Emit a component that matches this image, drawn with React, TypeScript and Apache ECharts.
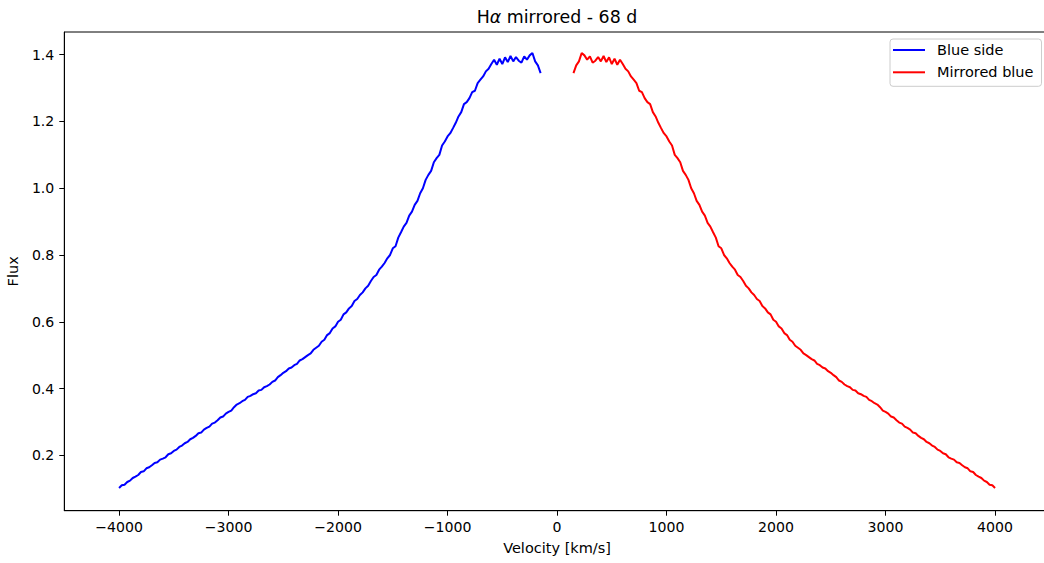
import React, { useEffect, useRef } from "react";
import * as echarts from "echarts";

// Velocity grid of the blue side (km/s)
const VELOCITY_START = -4000;
const VELOCITY_STEP = 25;

// Flux of the blue side (from -4000 to -150 km/s)
const blueFlux = [
  0.102, 0.110, 0.112, 0.120,
  0.124, 0.132, 0.136, 0.141,
  0.150, 0.152, 0.161, 0.164,
  0.170, 0.177, 0.179, 0.187,
  0.190, 0.194, 0.203, 0.206,
  0.213, 0.217, 0.225, 0.229,
  0.236, 0.240, 0.248, 0.252,
  0.258, 0.266, 0.268, 0.277,
  0.282, 0.286, 0.295, 0.298,
  0.305, 0.313, 0.316, 0.325,
  0.330, 0.334, 0.344, 0.352,
  0.356, 0.362, 0.366, 0.375,
  0.378, 0.383, 0.386, 0.394,
  0.396, 0.404, 0.407, 0.412,
  0.420, 0.424, 0.434, 0.440,
  0.447, 0.452, 0.460, 0.463,
  0.470, 0.474, 0.484, 0.488,
  0.494, 0.500, 0.505, 0.516,
  0.522, 0.528, 0.540, 0.546,
  0.560, 0.566, 0.580, 0.586,
  0.600, 0.606, 0.622, 0.628,
  0.640, 0.647, 0.662, 0.668,
  0.680, 0.688, 0.700, 0.708,
  0.722, 0.734, 0.740, 0.756,
  0.765, 0.776, 0.790, 0.800,
  0.820, 0.826, 0.852, 0.868,
  0.885, 0.896, 0.918, 0.930,
  0.950, 0.962, 0.985, 1.000,
  1.025, 1.040, 1.052, 1.078,
  1.090, 1.100, 1.128, 1.140,
  1.155, 1.165, 1.180, 1.196,
  1.215, 1.228, 1.252, 1.258,
  1.270, 1.288, 1.292, 1.315,
  1.325, 1.335, 1.350, 1.358,
  1.372, 1.385, 1.370, 1.388,
  1.372, 1.392, 1.378, 1.396,
  1.380, 1.393, 1.382, 1.376,
  1.395, 1.385, 1.398, 1.405,
  1.380, 1.368, 1.345,
];

const xTicks = [-4000, -3000, -2000, -1000, 0, 1000, 2000, 3000, 4000];
const yTicks = [0.2, 0.4, 0.6, 0.8, 1.0, 1.2, 1.4];

const seriesNames = ["Blue side", "Mirrored blue"];
const FONT = "DejaVu Sans";

export default function App() {
  const ref = useRef<HTMLDivElement>(null);

  useEffect(() => {
    if (!ref.current) return;
    const chart = echarts.init(ref.current, null, { renderer: "svg" });

    const blueData = blueFlux.map((f, i) => [VELOCITY_START + i * VELOCITY_STEP, f]);
    const mirroredData = blueData.map(([v, f]) => [-v, f]).reverse();

    chart.setOption({
      animation: false,
      backgroundColor: "#ffffff",
      textStyle: { fontFamily: FONT },
      grid: {
        left: 64.3,
        top: 32,
        width: 985.5,
        bottom: 52.3,
        show: true,
        borderColor: "#000",
        borderWidth: 1,
        backgroundColor: "transparent",
        containLabel: false,
        outerBoundsMode: "none",
      },
      legend: {
        orient: "vertical",
        left: 890,
        top: 39,
        data: seriesNames,
        icon: "rect",
        itemWidth: 32,
        itemHeight: 2,
        itemGap: 6.3,
        padding: [3, 8, 6, 3],
        borderColor: "#cccccc",
        borderWidth: 1,
        borderRadius: 3,
        backgroundColor: "rgba(255,255,255,0.8)",
        textStyle: {
          fontFamily: FONT,
          fontSize: 14.5,
          color: "#000",
          lineHeight: 16,
          padding: [0, 0, 0, 7],
        },
      },
      graphic: [
        {
          type: "text",
          x: 557,
          y: 17,
          style: {
            text: "{n|H}{a|α}{n| mirrored - 68 d}",
            textAlign: "center",
            textVerticalAlign: "middle",
            rich: {
              n: { fontFamily: FONT, fontSize: 17.4, fill: "#000" },
              a: { fontFamily: FONT, fontSize: 17.4, fontStyle: "italic", fill: "#000" },
            },
          },
        },
      ],
      xAxis: {
        type: "value",
        min: -4500,
        max: 4500,
        name: "Velocity [km/s]",
        nameLocation: "middle",
        nameGap: 30,
        nameTextStyle: { fontFamily: FONT, fontSize: 14.5, color: "#000" },
        splitLine: { show: false },
        axisLine: { show: true, onZero: false, lineStyle: { color: "#000", width: 1 } },
        axisTick: {
          show: true,
          inside: false,
          length: 5,
          customValues: xTicks,
          lineStyle: { color: "#000", width: 1 },
        },
        axisLabel: {
          customValues: xTicks,
          margin: 9,
          fontFamily: FONT,
          fontSize: 14.1,
          color: "#000",
          formatter: (v: number) => String(v).replace("-", "\u2212"),
        },
      },
      yAxis: {
        type: "value",
        min: 0.034,
        max: 1.468,
        name: "Flux",
        nameLocation: "middle",
        nameGap: 41,
        nameRotate: 90,
        nameTextStyle: { fontFamily: FONT, fontSize: 14.5, color: "#000" },
        splitLine: { show: false },
        axisLine: { show: true, onZero: false, lineStyle: { color: "#000", width: 1 } },
        axisTick: {
          show: true,
          inside: false,
          length: 5,
          customValues: yTicks,
          lineStyle: { color: "#000", width: 1 },
        },
        axisLabel: {
          customValues: yTicks,
          margin: 10,
          fontFamily: FONT,
          fontSize: 14.1,
          color: "#000",
          formatter: (v: number) => v.toFixed(1),
        },
      },
      series: [
        {
          name: seriesNames[0],
          type: "line",
          data: blueData,
          showSymbol: false,
          symbol: "none",
          color: "#0000ff",
          lineStyle: { color: "#0000ff", width: 2 },
          z: 3,
        },
        {
          name: seriesNames[1],
          type: "line",
          data: mirroredData,
          showSymbol: false,
          symbol: "none",
          color: "#ff0000",
          lineStyle: { color: "#ff0000", width: 2 },
          z: 3,
        },
      ],
    });

    return () => chart.dispose();
  }, []);

  return (
    <div
      style={{
        position: "fixed",
        left: 0,
        top: 0,
        width: 1044,
        height: 563,
        overflow: "hidden",
        background: "#fff",
      }}
    >
      <div ref={ref} style={{ width: 1052, height: 563 }} />
    </div>
  );
}
